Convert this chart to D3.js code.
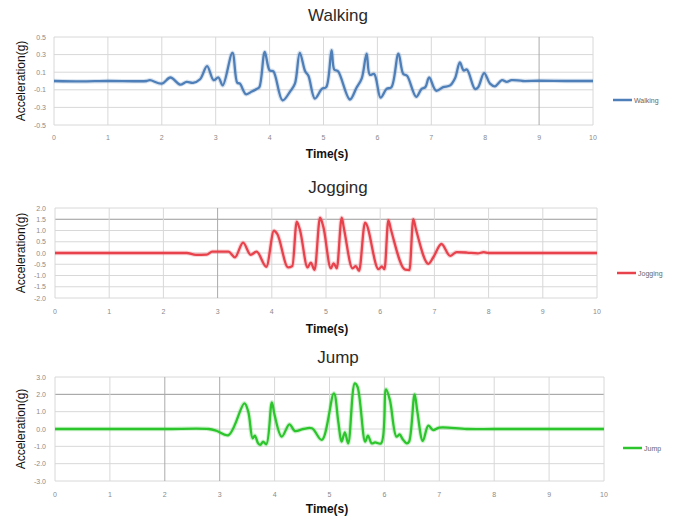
<!DOCTYPE html>
<html>
<head>
<meta charset="utf-8">
<script src="https://cdn.jsdelivr.net/npm/d3@7"></script>
<style>
  body { margin: 0; background: #fff; }
  text { font-family: Arial, "Liberation Sans", sans-serif; }
  .tick-label { font-size: 7px; fill: #8a8a8a; }
  .legend-label { font-size: 7px; fill: #666; }
  .title { font-size: 17px; fill: #2a2a2a; }
  .axis-title { font-size: 12px; fill: #111; }
</style>
</head>
<body>
<div id="chart"></div>
<script>
// values
const xTicks = [0, 1, 2, 3, 4, 5, 6, 7, 8, 9, 10];

const walkingTicks = [-0.5, -0.3, -0.1, 0.1, 0.3, 0.5];
const walkingTime = [0, 0.5, 1, 1.5, 1.72, 1.78, 2.0, 2.16, 2.34, 2.46, 2.58, 2.71, 2.84, 2.96, 3.05, 3.13, 3.31, 3.4, 3.45, 3.56, 3.67, 3.76, 3.81, 3.91, 4.0, 4.07, 4.24, 4.38, 4.47, 4.56, 4.66, 4.72, 4.84, 4.97, 5.05, 5.15, 5.2, 5.27, 5.49, 5.61, 5.71, 5.8, 5.86, 5.94, 6.06, 6.17, 6.26, 6.39, 6.48, 6.55, 6.72, 6.82, 6.89, 6.96, 7.09, 7.22, 7.35, 7.44, 7.53, 7.6, 7.66, 7.81, 7.87, 7.98, 8.09, 8.18, 8.31, 8.4, 8.49, 8.7, 9, 9.5, 10];
const walkingValues = [0, -0.005, 0, -0.003, 0, 0.01, -0.03, 0.04, -0.04, -0.01, -0.02, 0.02, 0.17, 0.01, 0.04, -0.05, 0.32, -0.02, -0.03, -0.15, -0.12, -0.09, -0.07, 0.33, 0.12, 0.11, -0.22, -0.12, -0.03, 0.32, 0.11, 0.06, -0.2, -0.09, -0.07, 0.35, 0.13, 0.11, -0.21, -0.08, 0.03, 0.31, 0.07, 0.08, -0.19, -0.09, -0.07, 0.31, 0.08, 0.06, -0.18, -0.09, -0.07, 0.04, -0.11, -0.07, -0.05, 0.03, 0.21, 0.12, 0.13, -0.09, -0.07, 0.09, -0.03, -0.06, 0.01, -0.01, 0.01, 0, 0.003, 0, 0];

const joggingTicks = [-2.0, -1.5, -1.0, -0.5, 0.0, 0.5, 1.0, 1.5, 2.0];
const joggingTime = [0, 1, 2, 2.43, 2.6, 2.8, 2.9, 3.2, 3.32, 3.47, 3.61, 3.72, 3.9, 4.04, 4.1, 4.3, 4.38, 4.46, 4.52, 4.66, 4.72, 4.79, 4.89, 4.95, 5.09, 5.14, 5.2, 5.29, 5.33, 5.49, 5.55, 5.61, 5.72, 5.97, 6.03, 6.08, 6.15, 6.2, 6.46, 6.54, 6.61, 6.66, 6.89, 6.98, 7.13, 7.29, 7.41, 7.6, 7.8, 7.91, 8.0, 9, 10];
const joggingValues = [0, 0, 0, 0, -0.08, -0.07, 0.06, 0.06, -0.19, 0.46, -0.08, 0.06, -0.61, 0.99, 0.85, -0.64, -0.58, 1.39, 1.02, -0.64, -0.43, -0.75, 1.57, 1.17, -0.68, -0.46, -0.68, 1.57, 1.1, -0.68, -0.58, -0.79, 1.35, -0.72, -0.6, -0.72, 1.46, 1.02, -0.74, -0.76, 1.5, 1.05, -0.48, -0.19, 0.4, -0.13, 0.04, 0.02, -0.02, 0.04, 0, 0, 0];

const jumpTicks = [-3.0, -2.0, -1.0, 0.0, 1.0, 2.0, 3.0];
const jumpTime = [0, 1, 2, 2.8, 2.94, 3.16, 3.45, 3.52, 3.6, 3.64, 3.7, 3.74, 3.79, 3.85, 3.95, 4.0, 4.13, 4.27, 4.37, 4.52, 4.68, 4.86, 5.08, 5.16, 5.22, 5.28, 5.34, 5.46, 5.51, 5.65, 5.7, 5.77, 5.83, 5.94, 6.03, 6.1, 6.22, 6.28, 6.33, 6.41, 6.45, 6.55, 6.6, 6.7, 6.8, 6.89, 7.0, 7.5, 8, 9, 10];
const jumpValues = [0, 0, 0, 0, -0.1, -0.35, 1.48, 1.0, -0.54, -0.38, -0.83, -0.92, -0.73, -0.88, 1.54, 0.8, -0.44, 0.27, -0.12, 0, 0.04, -0.63, 2.06, 0.42, -0.73, -0.19, -0.83, 2.63, 2.44, -0.73, -0.38, -0.83, -0.77, -0.83, 2.29, 1.67, -0.44, -0.31, -0.58, -0.83, -0.73, 2.0, 1.0, -0.69, 0.19, -0.06, 0.08, 0, 0, 0, 0];

const width = 677, height = 520;

const panels = [
  { name: "Walking", time: walkingTime, values: walkingValues, yTicks: walkingTicks, domain: [-0.5, 0.5],
    color: "#4f7fb8", curve: d3.curveCatmullRom.alpha(0.5),
    left: 54, right: 593, top: 37, bottom: 125, titleY: 21, tickY: 140, axisY: 158,
    legendY: 100, legendX: 613, darkY: [], darkX: [9] },
  { name: "Jogging", time: joggingTime, values: joggingValues, yTicks: joggingTicks, domain: [-2, 2],
    color: "#e8434d", curve: d3.curveMonotoneX,
    left: 55, right: 597, top: 208, bottom: 298, titleY: 193, tickY: 314, axisY: 333,
    legendY: 273, legendX: 617, darkY: [1.5], darkX: [3] },
  { name: "Jump", time: jumpTime, values: jumpValues, yTicks: jumpTicks, domain: [-3, 3],
    color: "#2cc62c", curve: d3.curveCatmullRom.alpha(0.5),
    left: 55, right: 604, top: 377, bottom: 481, titleY: 363, tickY: 497, axisY: 513,
    legendY: 448, legendX: 623, darkY: [2], darkX: [2, 3] }
];

const svg = d3.select("#chart").append("svg")
  .attr("width", width)
  .attr("height", height);

panels.forEach(p => {
  const x = d3.scaleLinear().domain([0, 10]).range([p.left, p.right]);
  const y = d3.scaleLinear().domain(p.domain).range([p.bottom, p.top]);
  const g = svg.append("g");

  // grid
  g.selectAll(".hgrid")
    .data(p.yTicks)
    .join("line")
    .attr("x1", p.left).attr("x2", p.right)
    .attr("y1", d => y(d)).attr("y2", d => y(d))
    .attr("stroke", d => p.darkY.includes(d) ? "#999" : "#d8d8d8")
    .attr("stroke-width", 1);

  g.selectAll(".vgrid")
    .data(xTicks)
    .join("line")
    .attr("x1", d => x(d)).attr("x2", d => x(d))
    .attr("y1", p.top).attr("y2", p.bottom)
    .attr("stroke", d => p.darkX.includes(d) ? "#ababab" : "#d8d8d8")
    .attr("stroke-width", 1);

  // tick labels
  g.selectAll(".ylab")
    .data(p.yTicks)
    .join("text")
    .attr("class", "tick-label")
    .attr("x", 46)
    .attr("y", d => y(d) + 2.5)
    .attr("text-anchor", "end")
    .text(d => d.toFixed(1));

  g.selectAll(".xlab")
    .data(xTicks)
    .join("text")
    .attr("class", "tick-label")
    .attr("x", d => x(d))
    .attr("y", p.tickY)
    .attr("text-anchor", "middle")
    .text(d => d);

  // the series
  const pts = p.time.map((t, i) => [t, p.values[i]]);
  const line = d3.line()
    .x(d => x(d[0]))
    .y(d => y(d[1]))
    .curve(p.curve);

  g.append("path")
    .datum(pts)
    .attr("fill", "none")
    .attr("stroke", p.color)
    .attr("stroke-opacity", 0.22)
    .attr("stroke-width", 4.5)
    .attr("d", line);

  g.append("path")
    .datum(pts)
    .attr("fill", "none")
    .attr("stroke", p.color)
    .attr("stroke-width", 2.3)
    .attr("stroke-linejoin", "round")
    .attr("d", line);

  // titles
  g.append("text")
    .attr("class", "title")
    .attr("x", 338)
    .attr("y", p.titleY)
    .attr("text-anchor", "middle")
    .text(p.name);

  g.append("text")
    .attr("class", "axis-title")
    .attr("x", 327)
    .attr("y", p.axisY)
    .attr("text-anchor", "middle")
    .attr("font-weight", "bold")
    .text("Time(s)");

  g.append("text")
    .attr("class", "axis-title")
    .attr("transform", `translate(25,${(p.top + p.bottom) / 2}) rotate(-90)`)
    .attr("text-anchor", "middle")
    .attr("font-size", "13px")
    .text("Acceleration(g)");

  // legend
  g.append("line")
    .attr("x1", p.legendX).attr("x2", p.legendX + 19)
    .attr("y1", p.legendY).attr("y2", p.legendY)
    .attr("stroke", p.color)
    .attr("stroke-width", 2.5);

  g.append("text")
    .attr("class", "legend-label")
    .attr("x", p.legendX + 21)
    .attr("y", p.legendY + 2.5)
    .text(p.name);
});
</script>
</body>
</html>
